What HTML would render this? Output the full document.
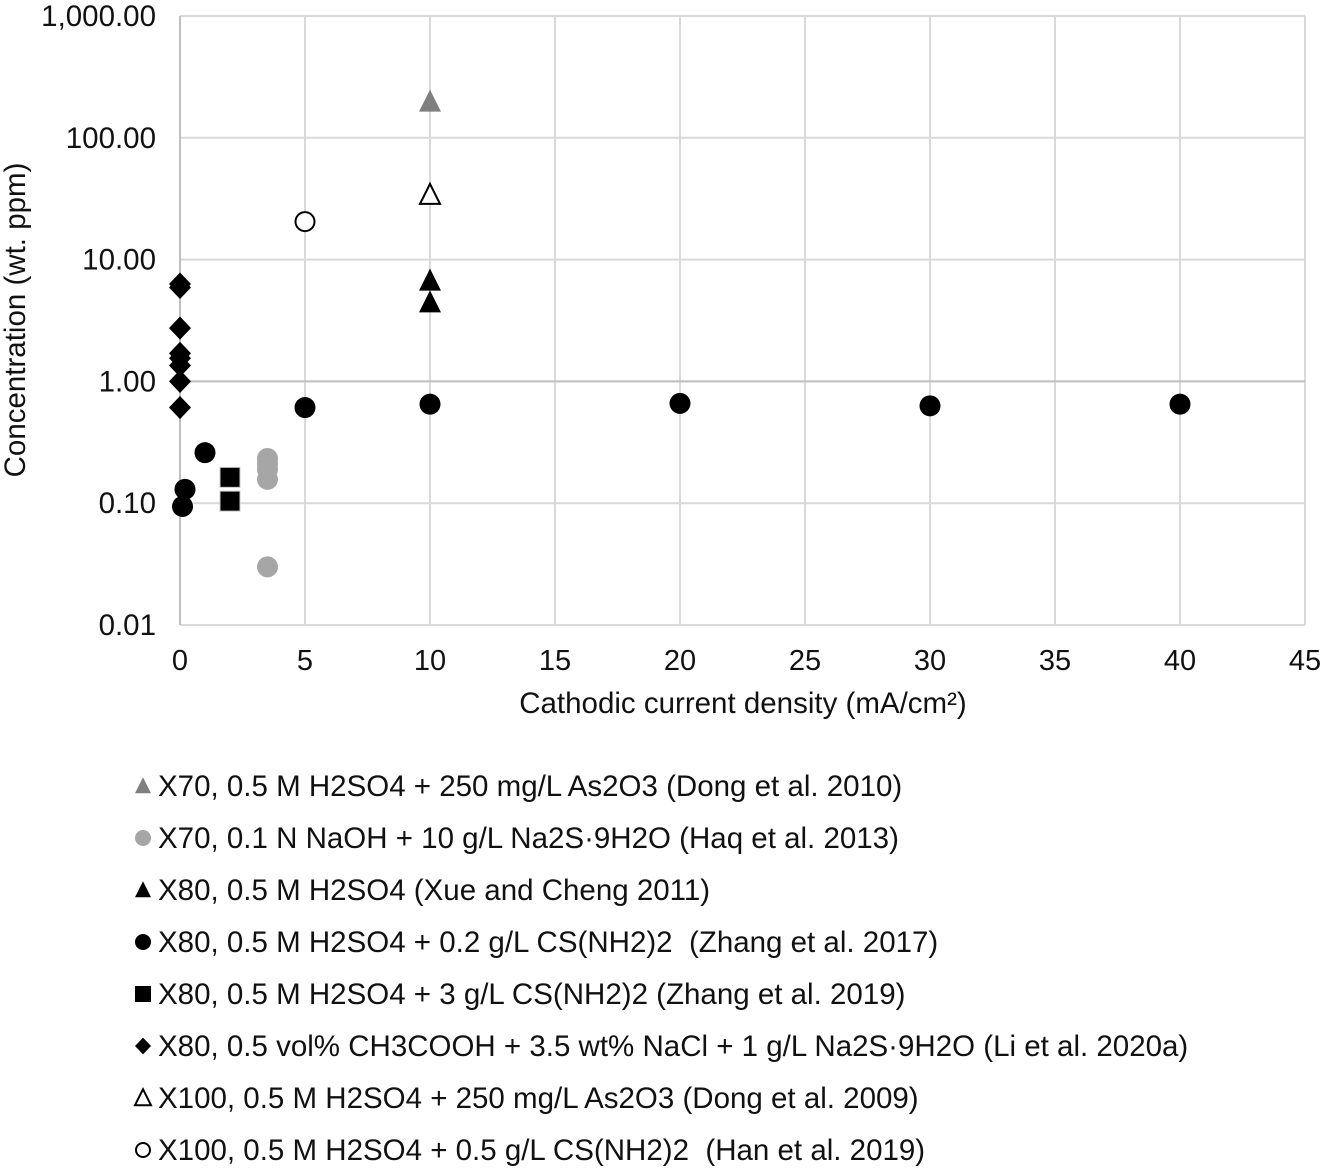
<!DOCTYPE html>
<html><head><meta charset="utf-8"><style>
html,body{margin:0;padding:0;background:#fff;width:1324px;height:1170px;overflow:hidden}
svg text{font-family:"Liberation Sans",Arial,sans-serif;fill:#111;white-space:pre}
</style></head><body>
<svg id="chart" width="1324" height="1170" viewBox="0 0 1324 1170"></svg>
<script>
const xTicks=[0,5,10,15,20,25,30,35,40,45];
const yTicks=[0.01,0.1,1,10,100,1000];
const yTickLabels=["0.01","0.10","1.00","10.00","100.00","1,000.00"];
const seriesNames=[
"X70, 0.5 M H2SO4 + 250 mg/L As2O3 (Dong et al. 2010)",
"X70, 0.1 N NaOH + 10 g/L Na2S·9H2O (Haq et al. 2013)",
"X80, 0.5 M H2SO4 (Xue and Cheng 2011)",
"X80, 0.5 M H2SO4 + 0.2 g/L CS(NH2)2\u00a0 (Zhang et al. 2017)",
"X80, 0.5 M H2SO4 + 3 g/L CS(NH2)2 (Zhang et al. 2019)",
"X80, 0.5 vol% CH3COOH + 3.5 wt% NaCl + 1 g/L Na2S·9H2O (Li et al. 2020a)",
"X100, 0.5 M H2SO4 + 250 mg/L As2O3 (Dong et al. 2009)",
"X100, 0.5 M H2SO4 + 0.5 g/L CS(NH2)2\u00a0 (Han et al. 2019)"];
const s1x=[10], s1y=[198];
const s2x=[3.5,3.5,3.5,3.5,3.5], s2y=[0.233,0.21,0.19,0.157,0.030];
const s3x=[10,10], s3y=[6.7,4.45];
const s4x=[1,0.2,0.1,5,10,20,30,40], s4y=[0.26,0.13,0.094,0.61,0.65,0.66,0.63,0.65];
const s5x=[2,2], s5y=[0.163,0.104];
const s6x=[0,0,0,0,0,0,0,0], s6y=[6.3,5.9,2.74,1.7,1.55,1.35,1.0,0.61];
const s7x=[10], s7y=[34];
const s8x=[5], s8y=[20.5];

const NS="http://www.w3.org/2000/svg";
const svg=document.getElementById('chart');
const L=180,R=1305,T=16,B=625;
const xs=v=>L+(v-0)/45*(R-L);
const ys=v=>B-(Math.log10(v)+2)/5*(B-T);
function el(t,a,p){const e=document.createElementNS(NS,t);for(const k in a)e.setAttribute(k,a[k]);(p||svg).appendChild(e);return e;}
const grid=el('g',{});

xTicks.forEach(v=>{const l=el('line',{x1:xs(v),x2:xs(v),y1:T,y2:B,stroke:'#d9d9d9','stroke-width':2},grid);
});
yTicks.forEach(v=>{const l=el('line',{x1:L,x2:R,y1:ys(v),y2:ys(v),stroke:'#d9d9d9','stroke-width':2},grid);
});
const ax=el('line',{x1:L,x2:L,y1:T,y2:B,stroke:'#bfbfbf','stroke-width':2});

const ax2=el('line',{x1:L,x2:R,y1:ys(1),y2:ys(1),stroke:'#bfbfbf','stroke-width':2});

xTicks.forEach(v=>{const t=el('text',{x:xs(v),y:670,'text-anchor':'middle','font-size':29});t.textContent=v;
});
yTicks.forEach((v,i)=>{const t=el('text',{x:156,y:ys(v)+10,'text-anchor':'end','font-size':29.5});t.textContent=yTickLabels[i];
});
const xt=el('text',{x:743,y:713,'text-anchor':'middle','font-size':29.5});xt.textContent='Cathodic current density (mA/cm²)';

const yt=el('text',{x:0,y:0,'text-anchor':'middle','font-size':29.5,transform:'translate(25,320) rotate(-90)'});yt.textContent='Concentration (wt. ppm)';


function marker(shape,fill,stroke,cx,cy,s,parent){
  let e;
  if(shape==='tri') e=el('polygon',{points:`${cx},${cy-s*1.1} ${cx-s},${cy+s*0.9} ${cx+s},${cy+s*0.9}`},parent);
  else if(shape==='circ') e=el('circle',{cx:cx,cy:cy,r:s},parent);
  else if(shape==='sq') e=el('rect',{x:cx-s,y:cy-s,width:2*s,height:2*s},parent);
  else e=el('polygon',{points:`${cx},${cy-s*1.05} ${cx+s},${cy} ${cx},${cy+s*1.05} ${cx-s},${cy}`},parent);
  e.setAttribute('fill',fill);e.setAttribute('stroke',stroke);e.setAttribute('stroke-width',2);
  return e;
}
const series=[
 {x:s1x,y:s1y,shape:'tri',fill:'#7f7f7f',stroke:'none',sz:11,name:'series-x70-dong-2010'},
 {x:s2x,y:s2y,shape:'circ',fill:'#a6a6a6',stroke:'none',sz:10.5,name:'series-x70-haq-2013'},
 {x:s3x,y:s3y,shape:'tri',fill:'#000',stroke:'none',sz:11,name:'series-x80-xue-2011'},
 {x:s4x,y:s4y,shape:'circ',fill:'#000',stroke:'none',sz:10.5,name:'series-x80-zhang-2017'},
 {x:s5x,y:s5y,shape:'sq',fill:'#000',stroke:'#ccc',sz:10,name:'series-x80-zhang-2019'},
 {x:s6x,y:s6y,shape:'dia',fill:'#000',stroke:'none',sz:11,name:'series-x80-li-2020a'},
 {x:s7x,y:s7y,shape:'tri',fill:'#fff',stroke:'#000',sz:10,name:'series-x100-dong-2009'},
 {x:s8x,y:s8y,shape:'circ',fill:'#fff',stroke:'#000',sz:9.5,name:'series-x100-han-2019'}];
series.forEach(s=>{
  const g=el('g',{});
  
  s.x.forEach((xv,i)=>{const m=marker(s.shape,s.fill,s.stroke,xs(xv),ys(s.y[i]),s.sz,g);
    m.setAttribute('stroke-width',s.shape==='sq'?1:2);
    });
});
const lg=el('g',{});

series.forEach((s,i)=>{
  const y=786+i*52;
  const g=el('g',{},lg);
  
  const sz=s.shape==='circ'?(s.fill==='#fff'?7:8):8;
  marker(s.shape,s.fill,s.fill==='#fff'?'#000':'none',143,y,sz,g);
  const t=el('text',{x:158,y:y+10,'font-size':29.5},g);t.textContent=seriesNames[i];
});
</script>
</body></html>
